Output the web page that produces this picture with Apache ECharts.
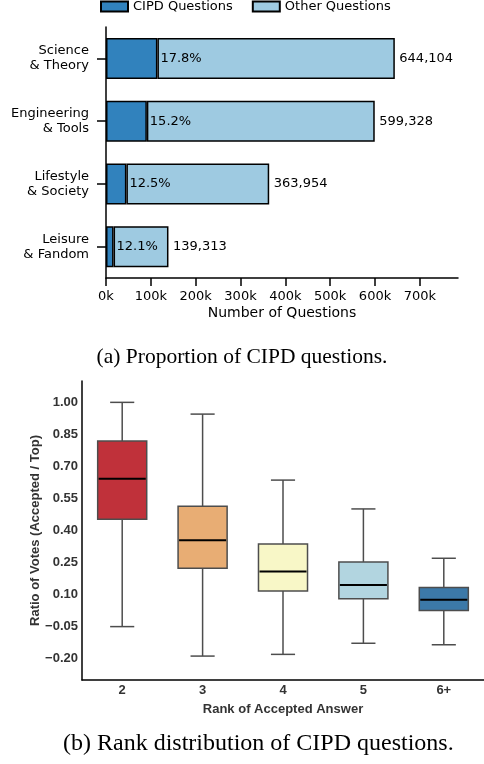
<!DOCTYPE html>
<html>
<head>
<meta charset="utf-8">
<script src="https://cdn.jsdelivr.net/npm/echarts@6/dist/echarts.min.js"></script>
<style>
  html, body { margin: 0; padding: 0; background: #fff; }
  #chart { width: 484px; height: 764px; }
</style>
</head>
<body>
<div id="chart"></div>
<script>
// (a) CIPD share per topic group
const topicGroups = ['Science\n& Theory', 'Engineering\n& Tools', 'Lifestyle\n& Society', 'Leisure\n& Fandom'];
const totalQuestions = [644104, 599328, 363954, 139313];
const cipdPercent = [17.8, 15.2, 12.5, 12.1];
const countTicks = [0, 100000, 200000, 300000, 400000, 500000, 600000, 700000];

// (b) vote ratio by rank of the accepted answer: [low, q1, median, q3, high]
const rankLabels = ['2', '3', '4', '5', '6+'];
const rankStats = [
  [-0.05, 0.453, 0.642, 0.819, 1.00],
  [-0.188, 0.223, 0.354, 0.514, 0.945],
  [-0.18, 0.117, 0.208, 0.337, 0.636],
  [-0.128, 0.081, 0.145, 0.253, 0.501],
  [-0.135, 0.025, 0.076, 0.133, 0.270]
];
const ratioTicks = [-0.20, -0.05, 0.10, 0.25, 0.40, 0.55, 0.70, 0.85, 1.00];
const rankColors = ['#c0313a', '#e8ad74', '#f8f7c7', '#b2d5e0', '#3c79a8'];

const cipdCounts = totalQuestions.map((t, i) => Math.round(t * cipdPercent[i] / 100));
const otherCounts = totalQuestions.map((t, i) => t - cipdCounts[i]);

const sansA = 'DejaVu Sans';
const sansB = 'Liberation Sans';
const serif = 'Liberation Serif';

const chart = echarts.init(document.getElementById('chart'), null, { renderer: 'canvas' });

function fmtRatio(v) {
  const s = Math.abs(v).toFixed(2);
  return v < -1e-9 ? '\u2212' + s : s;
}

const boxData = rankStats.map((s, i) => [i].concat(s));

chart.setOption({
  animation: false,
  backgroundColor: '#fff',
  title: [
    {
      text: '(a) Proportion of CIPD questions.',
      left: 'center', top: 341,
      textStyle: { fontFamily: serif, fontWeight: 'normal', fontSize: 21.5, color: '#000' }
    },
    {
      text: '(b) Rank distribution of CIPD questions.',
      left: 58, top: 727,
      textStyle: { fontFamily: serif, fontWeight: 'normal', fontSize: 24, color: '#000' }
    }
  ],
  legend: {
    top: 0, left: 100, padding: 0,
    itemWidth: 27, itemHeight: 10, itemGap: 19,
    icon: 'rect',
    textStyle: { fontFamily: sansA, fontSize: 13, color: '#000' },
    data: ['CIPD Questions', 'Other Questions']
  },
  grid: [
    { left: 106, top: 27, width: 352, height: 251 },
    { left: 82, top: 381, width: 402, height: 299 }
  ],
  xAxis: [
    {
      gridIndex: 0, type: 'value', min: 0, max: 785000,
      axisLine: { show: true, onZero: false, lineStyle: { color: '#000', width: 1.5 } },
      axisTick: { show: true, length: 8, lineStyle: { color: '#000', width: 1.5 }, customValues: countTicks },
      axisLabel: {
        customValues: countTicks,
        formatter: v => (v / 1000) + 'k',
        fontFamily: sansA, fontSize: 13, color: '#000', margin: 12
      },
      splitLine: { show: false },
      name: 'Number of Questions', nameLocation: 'middle', nameGap: 28,
      nameTextStyle: { fontFamily: sansA, fontSize: 14, color: '#000' }
    },
    {
      gridIndex: 1, type: 'category', data: rankLabels,
      axisLine: { show: true, onZero: false, lineStyle: { color: '#000', width: 1.5 } },
      axisTick: { show: false },
      axisLabel: { fontFamily: sansB, fontWeight: 'bold', fontSize: 13, color: '#333', margin: 4 },
      name: 'Rank of Accepted Answer', nameLocation: 'middle', nameGap: 23,
      nameTextStyle: { fontFamily: sansB, fontWeight: 'bold', fontSize: 13, color: '#333' }
    }
  ],
  yAxis: [
    {
      gridIndex: 0, type: 'category', data: topicGroups, inverse: true,
      axisLine: { show: true, onZero: false, lineStyle: { color: '#000', width: 1.5 } },
      axisTick: { show: true, alignWithLabel: true, length: 9, lineStyle: { color: '#000', width: 1.5 } },
      axisLabel: { fontFamily: sansA, fontSize: 13, color: '#000', align: 'right', lineHeight: 15, margin: 17, padding: [6, 0, 0, 0] }
    },
    {
      gridIndex: 1, type: 'value', min: -0.3, max: 1.1,
      axisLine: { show: true, onZero: false, lineStyle: { color: '#000', width: 1.5 } },
      axisTick: { show: false },
      splitLine: { show: false },
      axisLabel: {
        customValues: ratioTicks,
        formatter: fmtRatio,
        fontFamily: sansB, fontWeight: 'bold', fontSize: 13, color: '#333', margin: 4
      },
      name: 'Ratio of Votes (Accepted / Top)', nameLocation: 'middle', nameGap: 40,
      nameMoveOverlap: false,
      nameTextStyle: { fontFamily: sansB, fontWeight: 'bold', fontSize: 13, color: '#333' }
    }
  ],
  series: [
    {
      name: 'CIPD Questions', type: 'bar', stack: 'q',
      xAxisIndex: 0, yAxisIndex: 0, barWidth: 41,
      itemStyle: { color: '#3182bd', borderColor: '#000', borderWidth: 1.5 },
      data: cipdCounts
    },
    {
      name: 'Other Questions', type: 'bar', stack: 'q',
      xAxisIndex: 0, yAxisIndex: 0, barWidth: 41,
      itemStyle: { color: '#9ecae1', borderColor: '#000', borderWidth: 1.5 },
      label: {
        show: true, position: 'insideLeft', distance: 3,
        formatter: p => cipdPercent[p.dataIndex].toFixed(1) + '%',
        fontFamily: sansA, fontSize: 13, color: '#000'
      },
      data: otherCounts
    },
    {
      name: 'totals', type: 'scatter',
      xAxisIndex: 0, yAxisIndex: 0,
      symbol: 'circle', symbolSize: 1,
      itemStyle: { color: 'rgba(0,0,0,0)', opacity: 1 },
      silent: true,
      label: {
        show: true, position: 'right', distance: 4,
        formatter: p => totalQuestions[p.dataIndex].toLocaleString('en-US'),
        fontFamily: sansA, fontSize: 13, color: '#000', opacity: 1
      },
      data: totalQuestions.map((t, i) => [t, i])
    },
    {
      name: 'ranks', type: 'custom',
      xAxisIndex: 1, yAxisIndex: 1,
      encode: { x: 0, y: [1, 2, 3, 4, 5] },
      renderItem: function (params, api) {
        const idx = api.value(0);
        const band = api.size([1, 0])[0];
        const bw = band * 0.61;
        const cw = band * 0.3;
        const pLo = api.coord([idx, api.value(1)]);
        const pQ1 = api.coord([idx, api.value(2)]);
        const pMed = api.coord([idx, api.value(3)]);
        const pQ3 = api.coord([idx, api.value(4)]);
        const pHi = api.coord([idx, api.value(5)]);
        const cx = pMed[0];
        const gray = '#4d4d4d';
        const wStyle = { stroke: gray, lineWidth: 1.5, fill: null };
        return {
          type: 'group',
          children: [
            { type: 'line', shape: { x1: cx, y1: pQ3[1], x2: cx, y2: pHi[1] }, style: wStyle },
            { type: 'line', shape: { x1: cx, y1: pQ1[1], x2: cx, y2: pLo[1] }, style: wStyle },
            { type: 'line', shape: { x1: cx - cw / 2, y1: pHi[1], x2: cx + cw / 2, y2: pHi[1] }, style: wStyle },
            { type: 'line', shape: { x1: cx - cw / 2, y1: pLo[1], x2: cx + cw / 2, y2: pLo[1] }, style: wStyle },
            {
              type: 'rect',
              shape: { x: cx - bw / 2, y: pQ3[1], width: bw, height: pQ1[1] - pQ3[1] },
              style: { fill: rankColors[idx], stroke: gray, lineWidth: 1.5 }
            },
            {
              type: 'line',
              shape: { x1: cx - bw / 2 + 1, y1: pMed[1], x2: cx + bw / 2 - 1, y2: pMed[1] },
              style: { stroke: '#000', lineWidth: 2 }
            }
          ]
        };
      },
      data: boxData
    }
  ]
});
</script>
</body>
</html>
